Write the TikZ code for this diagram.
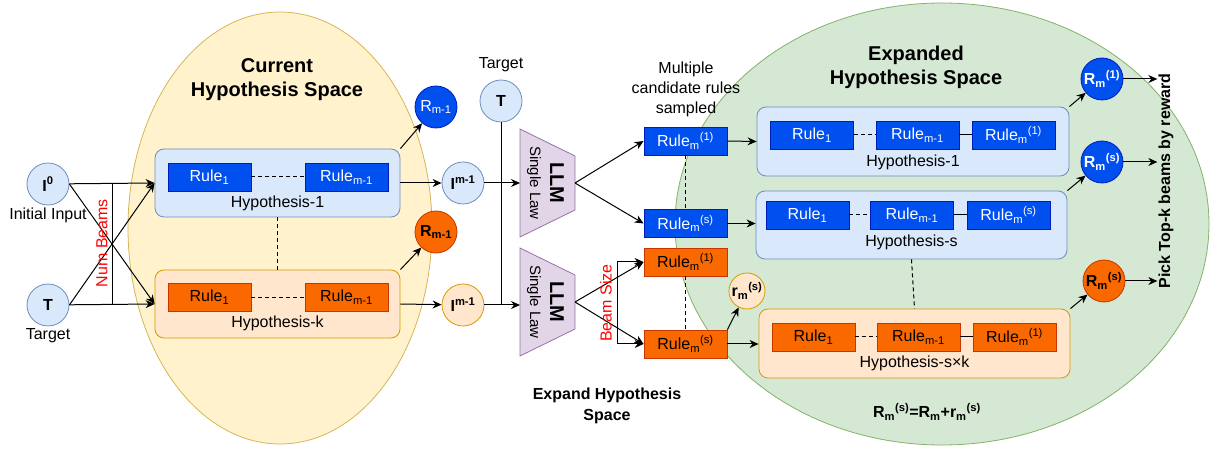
\documentclass[tikz,border=0pt]{standalone}
\usepackage{fontspec}
\setmainfont{Liberation Sans}
\usetikzlibrary{calc,arrows.meta}

\definecolor{ruleblue}{HTML}{0050EF}
\definecolor{ruleblueln}{HTML}{001DBC}
\definecolor{ruleorange}{HTML}{FA6800}
\definecolor{ruleorangeln}{HTML}{C73500}
\definecolor{hypblue}{HTML}{DAE8FC}
\definecolor{hypblueln}{HTML}{6C8EBF}
\definecolor{hyporange}{HTML}{FFE6CC}
\definecolor{hyporangeln}{HTML}{D79B00}
\definecolor{curfill}{HTML}{FFF2CC}
\definecolor{curln}{HTML}{D6B656}
\definecolor{expfill}{HTML}{D5E8D4}
\definecolor{expln}{HTML}{82B366}
\definecolor{llmfill}{HTML}{E1D5E7}
\definecolor{llmln}{HTML}{9673A6}
\definecolor{notered}{HTML}{FF0000}

\tikzset{
  lbl/.style={font=\fontsize{16}{20}\selectfont, inner sep=1pt},
  ttl/.style={font=\fontsize{20}{24}\selectfont\bfseries, align=center},
  rulebox/.style={rectangle, minimum width=83pt, minimum height=28pt, inner sep=0pt,
    line width=0.8pt, font=\fontsize{16}{20}\selectfont},
  ruleb/.style={rulebox, draw=ruleblueln, fill=ruleblue, text=white},
  ruleo/.style={rulebox, draw=ruleorangeln, fill=ruleorange, text=black},
  hyp/.style={rectangle, rounded corners=9pt, line width=0.8pt, minimum height=68pt},
  hypb/.style={hyp, draw=hypblueln, fill=hypblue},
  hypo/.style={hyp, draw=hyporangeln, fill=hyporange},
  bubble/.style={circle, minimum size=42pt, inner sep=0pt, line width=0.8pt,
    font=\fontsize{16}{20}\selectfont\bfseries},
  bubbleb/.style={bubble, draw=hypblueln, fill=hypblue},
  bubbleo/.style={bubble, draw=hyporangeln, fill=hyporange},
  rwdb/.style={bubble, draw=ruleblueln, fill=ruleblue, text=white},
  rwdo/.style={bubble, draw=ruleorangeln, fill=ruleorange},
  link/.style={line width=1pt},
  gap/.style={line width=1pt, dash pattern=on 4pt off 3pt},
}

\begin{document}
\begin{tikzpicture}[x=1pt,y=-1pt,>={Stealth[length=9pt,width=8pt]}]
\useasboundingbox (0,0) rectangle (1211,454);

% Current hypothesis space (left)
\draw[fill=curfill, draw=curln, line width=0.8pt] (280,228) ellipse [x radius=152pt, y radius=216pt];
\node[ttl] (cur-ttl) at (277,80) {Current\\Hypothesis Space};

% Expanded hypothesis space (right)
\draw[fill=expfill, draw=expln, line width=0.8pt] (942,224) ellipse [x radius=267pt, y radius=221pt];
\node[ttl] (exp-ttl) at (916,67) {Expanded\\Hypothesis Space};

% Inputs
\node[bubbleb] (izero) at (48,184) {I\textsuperscript{0}};
\node[lbl] (izero-lbl) at (48,215) {Initial Input};
\node[bubbleb] (tin) at (48,305) {T};
\node[lbl] (tin-lbl) at (48,336) {Target};

% Hypothesis-1 (current)
\node[hypb, minimum width=245pt] (hone) at (277.5,183) {};
\node[ruleb] (hone-a) at (209.5,177) {Rule\textsubscript{1}};
\node[ruleb] (hone-b) at (346.5,177) {Rule\textsubscript{m-1}};
\draw[gap] (hone-a) -- (hone-b);
\node[lbl] (hone-lbl) at (277.5,203) {Hypothesis-1};

% Hypothesis-k (current)
\node[hypo, minimum width=245pt] (hk) at (277.5,304) {};
\node[ruleo] (hk-a) at (209.5,297.5) {Rule\textsubscript{1}};
\node[ruleo] (hk-b) at (346.5,297.5) {Rule\textsubscript{m-1}};
\draw[gap] (hk-a) -- (hk-b);
\node[lbl] (hk-lbl) at (277.5,323) {Hypothesis-k};
\draw[gap] (hone.south) -- (hk.north);

% Beams from the inputs
\draw[link,->] (izero) -- (hone.west);
\draw[link,->] (izero.east) -- (hk.west);
\draw[link,->] (tin.east) -- (hone.west);
\draw[link,->] (tin) -- (hk.west);
\draw[link] ($(izero.east)!0.5!(hone.west)$) -- ($(tin.east)!0.5!(hk.west)$);
\node[lbl, rotate=90, text=notered] (nbeams) at (102,243) {Num Beams};

% Observations and rewards of the current hypotheses
\node[bubbleb] (ione) at (463,183) {I\textsuperscript{m-1}};
\node[bubbleo] (ik) at (463,305) {I\textsuperscript{m-1}};
\node[rwdb, font=\fontsize{16}{20}\selectfont] (rone) at (436,107) {R\textsubscript{m-1}};
\node[rwdo] (rk) at (436,232) {R\textsubscript{m-1}};
\draw[link,->] (hone.east) -- (ione);
\draw[link,->] (hk.east) -- (ik);
\draw[link,->] (hone.north east) -- (rone);
\draw[link,->] (hk.north east) -- (rk);

% Target
\node[bubbleb] (tmid) at (501,101) {T};
\node[lbl] (tmid-lbl) at (501,65) {Target};

% LLM (single law), two copies
\draw[fill=llmfill, draw=llmln, line width=0.8pt]
  (520,129) -- (575,156) -- (575,210) -- (520,237) -- cycle;
\coordinate (llmone-in) at (520,183);
\coordinate (llmone-out) at (575,183);
\node[lbl, rotate=-90, font=\fontsize{20}{24}\selectfont\bfseries] (llmone-txt) at (557,183) {LLM};
\node[lbl, rotate=-90, font=\fontsize{15}{18}\selectfont] (llmone-sub) at (534,183) {Single Law};

\draw[fill=llmfill, draw=llmln, line width=0.8pt]
  (520,248) -- (575,275) -- (575,329) -- (520,356) -- cycle;
\coordinate (llmtwo-in) at (520,305);
\coordinate (llmtwo-out) at (575,302);
\node[lbl, rotate=-90, font=\fontsize{20}{24}\selectfont\bfseries] (llmtwo-txt) at (557,302) {LLM};
\node[lbl, rotate=-90, font=\fontsize{15}{18}\selectfont] (llmtwo-sub) at (534,302) {Single Law};

\draw[link,->] (ione) -- (llmone-in);
\draw[link,->] (ik) -- (llmtwo-in);
\draw[link] (tmid.south) -- (tmid.south |- ik.east);

% Sampled candidate rules
\node[lbl, align=center] (multi) at (686,89) {Multiple\\candidate rules\\sampled};
\node[ruleb] (mbone) at (685.5,141) {Rule\textsubscript{m}\textsuperscript{(1)}};
\node[ruleb] (mbs) at (685.5,223.5) {Rule\textsubscript{m}\textsuperscript{(s)}};
\node[ruleo] (moone) at (685.5,262) {Rule\textsubscript{m}\textsuperscript{(1)}};
\node[ruleo] (mos) at (685.5,344) {Rule\textsubscript{m}\textsuperscript{(s)}};
\draw[gap] (mbone.south) -- (mbs.north);
\draw[gap] (moone.south) -- (mos.north);

\draw[link,->] (llmone-out) -- (mbone.west);
\draw[link,->] (llmone-out) -- (mbs.west);
\draw[link,->] (llmtwo-out) -- (moone.west);
\draw[link,->] (llmtwo-out) -- (mos.west);

% Beam size bracket
\coordinate (bsx) at (617,0);
\draw[link,->] (bsx |- mos.west) -- (bsx |- moone.west) -- (moone.west);
\draw[link,->] (bsx |- mos.west) -- (mos.west);
\node[lbl, rotate=90, text=notered] (bsize) at (606,303) {Beam Size};

% Step reward
\node[bubbleo, minimum size=36pt] (rsm) at (747,291) {r\textsubscript{m}\textsuperscript{(s)}};
\draw[link,->] (mos.north east) -- (rsm);

% Hypothesis-1 (expanded)
\node[hypb, minimum width=312pt, minimum height=69pt] (hrone) at (913,141.5) {};
\node[ruleb] (hrone-a) at (812,135) {Rule\textsubscript{1}};
\node[ruleb] (hrone-b) at (917.5,135) {Rule\textsubscript{m-1}};
\node[ruleb] (hrone-c) at (1013.5,135) {Rule\textsubscript{m}\textsuperscript{(1)}};
\draw[gap] (hrone-a) -- (hrone-b);
\draw[link] (hrone-b) -- (hrone-c);
\node[lbl] (hrone-lbl) at (913,162) {Hypothesis-1};

% Hypothesis-s (expanded)
\node[hypb, minimum width=311pt] (hrs) at (911.5,225) {};
\node[ruleb] (hrs-a) at (807.5,215) {Rule\textsubscript{1}};
\node[ruleb] (hrs-b) at (912,215) {Rule\textsubscript{m-1}};
\node[ruleb] (hrs-c) at (1008.5,215) {Rule\textsubscript{m}\textsuperscript{(s)}};
\draw[gap] (hrs-a) -- (hrs-b);
\draw[link] (hrs-b) -- (hrs-c);
\node[lbl] (hrs-lbl) at (911.5,242) {Hypothesis-s};

% Hypothesis-s x k (expanded)
\node[hypo, minimum width=311pt, minimum height=69pt] (hrsk) at (914.5,343.5) {};
\node[ruleo] (hrsk-a) at (813.5,337) {Rule\textsubscript{1}};
\node[ruleo] (hrsk-b) at (918.5,337) {Rule\textsubscript{m-1}};
\node[ruleo] (hrsk-c) at (1014.5,337) {Rule\textsubscript{m}\textsuperscript{(1)}};
\draw[gap] (hrsk-a) -- (hrsk-b);
\draw[link] (hrsk-b) -- (hrsk-c);
\node[lbl] (hrsk-lbl) at (914.5,363) {Hypothesis-s×k};
\draw[gap] (hrs.south) -- (hrsk.north);

\draw[link,->] (mbone.east) -- (hrone.west);
\draw[link,->] (mbs.east) -- (mbs.east -| hrs.west);
\draw[link,->] (mos.east) -- (mos.east -| hrsk.west);

% Rewards of the expanded hypotheses
\node[rwdb] (rrone) at (1102,79) {R\textsubscript{m}\textsuperscript{(1)}};
\node[rwdb] (rrs) at (1102,162) {R\textsubscript{m}\textsuperscript{(s)}};
\node[rwdo] (rrsk) at (1104,281) {R\textsubscript{m}\textsuperscript{(s)}};
\draw[link,->] (hrone.north east) -- (rrone);
\draw[link,->] (hrs.north east) -- (rrs);
\draw[link,->] (hrsk.north east) -- (rrsk);

% Top-k selection
\node[lbl, rotate=90, font=\fontsize{16}{20}\selectfont\bfseries] (pick) at (1166,181) {Pick Top-k beams by reward};
\foreach \r in {rrone,rrs,rrsk} {
  \draw[link,->] (\r) -- (\r -| pick.north);
}

% Captions
\node[lbl, align=center, font=\fontsize{16}{21}\selectfont\bfseries] (expand) at (607,406) {Expand Hypothesis\\Space};
\node[lbl, font=\fontsize{16}{20}\selectfont\bfseries] (rsum) at (927,412)
  {R\textsubscript{m}\textsuperscript{(s)}=R\textsubscript{m}+r\textsubscript{m}\textsuperscript{(s)}};

\end{tikzpicture}
\end{document}
